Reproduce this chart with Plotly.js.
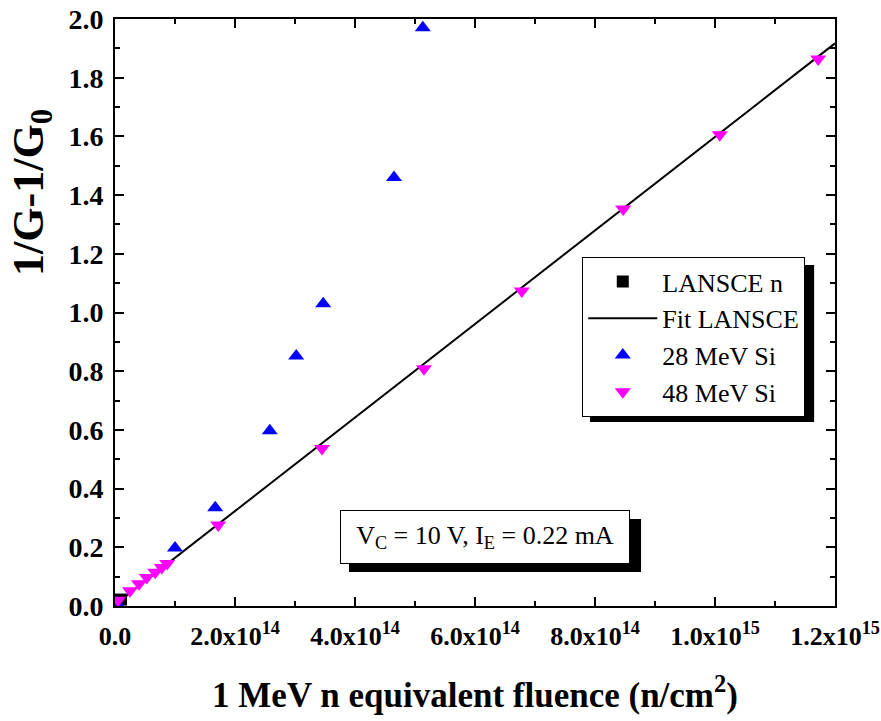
<!DOCTYPE html>
<html>
<head>
<meta charset="utf-8">
<script src="https://cdn.plot.ly/plotly-3.0.1.min.js"></script>
<style>html,body{margin:0;padding:0;background:#fff;}#chart{width:881px;height:721px;}</style>
</head>
<body>
<div id="chart"></div>
<script>
// ---- data ----
var lansceX = [3e12, 1.0e13];
var lansceY = [0.010, 0.022];

var fitX = [2e12, 1.2e15];
var fitY = [0.008, 1.917];

var si28X = [2e12, 1.0e14, 1.67e14, 2.58e14, 3.02e14, 3.47e14, 4.65e14, 5.13e14];
var si28Y = [0.012, 0.198, 0.335, 0.597, 0.852, 1.030, 1.460, 1.970];

var si48X = [5e12, 2.5e13, 4.0e13, 5.3e13, 6.7e13, 7.8e13, 8.7e13, 1.72e14, 3.45e14, 5.15e14, 6.78e14, 8.47e14, 1.008e15, 1.172e15];
var si48Y = [0.020, 0.052, 0.076, 0.097, 0.115, 0.131, 0.145, 0.276, 0.537, 0.808, 1.073, 1.353, 1.606, 1.864];

var xTickVals = [0, 2e14, 4e14, 6e14, 8e14, 1e15, 1.2e15];
var xTickText = ['0.0', '2.0x10<sup>14</sup>', '4.0x10<sup>14</sup>', '6.0x10<sup>14</sup>', '8.0x10<sup>14</sup>', '1.0x10<sup>15</sup>', '1.2x10<sup>15</sup>'];

var legendNames = ['LANSCE n', 'Fit LANSCE', '28 MeV Si', '48 MeV Si'];
var conditionText = 'V<sub>C</sub> = 10 V, I<sub>E</sub> = 0.22 mA';
var yTitleText = '1/G-1/G<sub>0</sub>';
var xTitleText = '1 MeV n equivalent fluence (n/cm<sup>2</sup>)';

var SERIF = 'Liberation Serif, Times New Roman, serif';

var traces = [
  {x: lansceX, y: lansceY, name: legendNames[0], type: 'scatter', mode: 'markers',
   marker: {symbol: 'square', size: 12, color: '#000000'}},
  {x: fitX, y: fitY, name: legendNames[1], type: 'scatter', mode: 'lines',
   line: {color: '#000000', width: 2}},
  {x: si28X, y: si28Y, name: legendNames[2], type: 'scatter', mode: 'markers',
   marker: {symbol: 'triangle-up', size: 14, color: '#0000ff'}},
  {x: si48X, y: si48Y, name: legendNames[3], type: 'scatter', mode: 'markers',
   marker: {symbol: 'triangle-down', size: 14, color: '#ff00ff'}}
];

var axisCommon = {
  showline: true, linecolor: '#000', linewidth: 2, mirror: 'ticks',
  ticks: 'inside', ticklen: 9, tickwidth: 2, tickcolor: '#000',
  showgrid: false, zeroline: false, automargin: false
};

var layout = {
  width: 881, height: 721,
  margin: {l: 115, r: 46, t: 19, b: 115},
  paper_bgcolor: '#fff', plot_bgcolor: '#fff',
  showlegend: true,
  legend: {
    x: 0.649, y: 0.5945, xanchor: 'left', yanchor: 'top',
    bgcolor: '#fff', bordercolor: '#000', borderwidth: 1,
    font: {family: SERIF, size: 26, color: '#000'},
    itemwidth: 69, tracegroupgap: 0
  },
  xaxis: Object.assign({}, axisCommon, {
    range: [0, 1.2e15], tickmode: 'array', tickvals: xTickVals, ticktext: xTickText,
    tickfont: {family: SERIF, size: 26, color: '#000', weight: 'bold'},
    ticklabelstandoff: 6,
    minor: {dtick: 1e14, ticks: 'inside', ticklen: 5, tickwidth: 2, tickcolor: '#000'},
    title: {text: xTitleText, standoff: 32, font: {family: SERIF, size: 35, color: '#000', weight: 'bold'}}
  }),
  yaxis: Object.assign({}, axisCommon, {
    range: [0, 2.0], dtick: 0.2, tick0: 0, tickformat: '.1f',
    tickfont: {family: SERIF, size: 28, color: '#000', weight: 'bold'},
    ticklabelstandoff: 4,
    minor: {dtick: 0.1, ticks: 'inside', ticklen: 5, tickwidth: 2, tickcolor: '#000'}
  }),
  shapes: [
    {type: 'rect', xref: 'paper', yref: 'paper', x0: 0.6597, x1: 0.971, y0: 0.3135, y1: 0.581,
     fillcolor: '#000', line: {width: 0}, layer: 'above'},
    {type: 'rect', xref: 'paper', yref: 'paper', x0: 0.325, x1: 0.7306, y0: 0.0579, y1: 0.148,
     fillcolor: '#000', line: {width: 0}, layer: 'above'}
  ],
  annotations: [
    {text: conditionText, xref: 'paper', yref: 'paper', x: 0.514, y: 0.1175,
     xanchor: 'center', yanchor: 'middle', showarrow: false,
     width: 280, height: 44, borderpad: 4, bordercolor: '#000', borderwidth: 1, bgcolor: '#fff',
     font: {family: SERIF, size: 26, color: '#000'}},
    {text: yTitleText, xref: 'paper', yref: 'paper', x: -0.117, y: 0.705,
     xanchor: 'center', yanchor: 'middle', showarrow: false, textangle: -90,
     font: {family: SERIF, size: 44, color: '#000', weight: 'bold'}}
  ]
};

Plotly.newPlot('chart', traces, layout, {displayModeBar: false, staticPlot: true});
</script>
</body>
</html>
